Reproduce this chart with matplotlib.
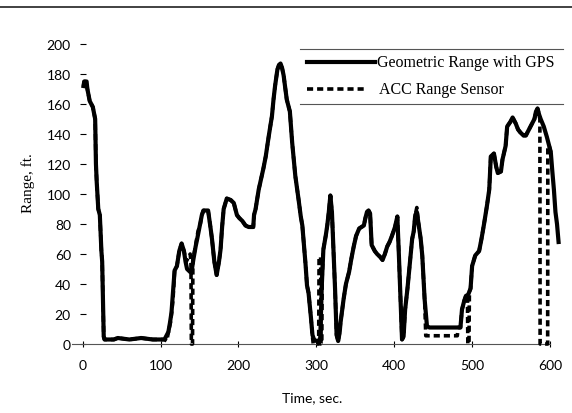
import matplotlib
matplotlib.use("Agg")
import matplotlib.pyplot as plt
from matplotlib.lines import Line2D

# ---------------- data ----------------
gps_t = [1, 2, 5, 6, 9, 13, 16, 17, 18, 20, 22, 24, 25, 27, 28, 40, 45, 60, 75, 90, 105,
         110, 112, 114, 116, 118, 121, 124, 127, 130, 132, 134, 138, 140, 142, 145, 147, 150,
         153, 155, 161, 164, 166, 169, 172, 175, 177, 179, 181, 185, 190, 194, 198, 201, 205,
         209, 213, 219, 220, 222, 226, 229, 232, 235, 239, 243, 245, 247, 250, 252, 254, 256,
         258, 262, 266, 269, 273, 277, 280, 282, 286, 288, 290, 293, 295, 297, 300, 303, 305,
         307, 309, 312, 314, 316, 318, 320, 322, 324, 326, 328, 330, 331, 335, 338, 342, 345,
         348, 351, 355, 358, 361, 363, 365, 367, 369, 371, 375, 378, 382, 385, 388, 391, 394,
         397, 401, 404, 406, 408, 410, 412, 414, 417, 419, 421, 423, 425, 427, 429, 431, 434,
         436, 439, 442, 445, 460, 485, 487, 490, 492, 495, 498, 500, 504, 509, 512, 515, 519,
         522, 524, 528, 531, 533, 537, 539, 543, 545, 549, 552, 556, 559, 562, 566, 569, 573,
         577, 580, 582, 584, 586, 588, 592, 596, 599, 601, 603, 605, 607, 609, 611]
gps_r = [172, 175, 175, 170, 162, 158, 150, 120, 108, 90, 86, 62, 55, 5, 3, 3, 4, 3, 4, 3, 3,
         8, 14, 21, 35, 49, 52, 62, 67, 62, 55, 50, 48, 49, 56, 65, 70, 78,
         86, 89, 89, 78, 70, 55, 46, 55, 63, 78, 90, 97, 96, 94, 86, 84, 82,
         79, 78, 78, 86, 90, 103, 110, 117, 125, 139, 152, 163, 172, 183, 186, 187, 184,
         179, 163, 155, 134, 112, 97, 85, 79, 54, 39, 34, 18, 6, 3, 2, 2, 4,
         39, 63, 72, 79, 88, 99, 88, 63, 37, 6, 2, 8, 14, 30, 40, 48, 57,
         65, 72, 77, 78, 79, 84, 88, 89, 87, 66, 62, 60, 58, 56, 60, 65, 68,
         72, 78, 85, 59, 30, 3, 5, 23, 37, 48, 59, 70, 75, 86, 88, 81, 70,
         59, 30, 12, 11, 11, 11, 23, 29, 32, 33, 37, 52, 59, 62, 70, 79, 92,
         103, 125, 127, 118, 114, 115, 123, 132, 145, 148, 151, 147, 143, 141, 139, 139, 143,
         147, 150, 155, 157, 153, 150, 145, 138, 132, 128, 115, 103, 88, 80, 68]

acc_t = [1, 2, 5, 6, 9, 13, 16, 17, 18, 20, 22, 24, 25, 27, 28, 40, 45, 60, 75, 90, 105,
         108, 110, 113, 116, 118, 121, 124, 127, 130, 133, 136, 138, 139, 139.5, 141, 141.5,
         143, 145, 148, 151, 153, 155, 161, 164, 166, 169, 172, 175, 177, 179, 181, 185, 190,
         194, 198, 201, 205, 209, 213, 219, 220, 222, 226, 229, 232, 235, 239, 243, 245, 247,
         250, 252, 254, 256, 258, 262, 266, 269, 273, 277, 280, 282, 286, 288, 290, 293, 295,
         296, 303, 303.5, 305.5, 306, 307, 307.5, 309, 312, 314, 316, 318, 320, 322, 324, 326,
         328, 330, 331, 335, 338, 342, 345, 348, 351, 355, 358, 361, 363, 365, 367, 369, 371,
         375, 378, 382, 385, 388, 391, 394, 397, 401, 404, 406, 408, 410, 412, 414, 417, 419,
         421, 423, 425, 427, 429, 431, 434, 436, 439, 440, 440.5, 481, 482, 485, 487, 490, 492,
         494, 494.5, 496, 496.5, 498, 500, 504, 509, 512, 515, 519, 522, 524, 528, 531, 533,
         537, 539, 543, 545, 549, 552, 556, 559, 562, 566, 569, 573, 577, 580, 582, 584, 586,
         587, 587.3, 597, 597.2, 599, 601]
acc_r = [172, 175, 175, 170, 162, 158, 150, 120, 108, 90, 86, 62, 55, 5, 3, 3, 4, 3, 4, 3, 3,
         2, 8, 15, 30, 49, 52, 62, 67, 62, 55, 58, 60, 55, 0, 0, 58,
         60, 66, 75, 80, 86, 89, 89, 78, 70, 55, 46, 55, 63, 78, 90, 97, 96,
         94, 86, 84, 82, 79, 78, 78, 86, 90, 103, 110, 117, 125, 139, 152, 163, 172,
         183, 186, 187, 184, 179, 163, 155, 134, 112, 97, 85, 79, 54, 39, 34, 18, 5,
         0, 0, 58, 58, 0, 0, 45, 63, 72, 79, 88, 99, 88, 63, 37, 6,
         2, 8, 14, 30, 40, 48, 57, 65, 72, 77, 78, 79, 84, 88, 89, 87, 66,
         62, 60, 58, 56, 60, 65, 68, 72, 78, 85, 59, 30, 3, 5, 23, 37, 48,
         59, 70, 75, 86, 91, 81, 70, 59, 30, 12, 5.5, 5.5, 11, 11, 23, 29, 32,
         33, 0, 0, 35, 37, 52, 59, 62, 70, 79, 92, 103, 125, 127, 118, 114,
         115, 123, 132, 145, 148, 151, 147, 143, 141, 139, 139, 143, 147, 150, 155, 157, 153,
         150, 0, 0, 132, 132, 128]

x_ticks = [0, 100, 200, 300, 400, 500, 600]
y_ticks = [0, 20, 40, 60, 80, 100, 120, 140, 160, 180, 200]
gps_label = "Geometric Range with GPS"
acc_label = "ACC Range Sensor"
x_title = "Time, sec."
y_title = "Range, ft."

# ---------------- figure ----------------
W, H = 572, 414
fig = plt.figure(figsize=(W / 100, H / 100), dpi=100)
fig.patch.set_facecolor("white")

def fx(px):
    return px / W

def fy(py):
    return 1 - py / H

ax = fig.add_axes([fx(82.7), fy(345), fx(550) - fx(82.7), fy(45) - fy(345)])
ax.set_xlim(0, 600)
ax.set_ylim(0, 200)

DASH = (0, (1.7, 1.1))
ax.plot(acc_t, acc_r, color="black", lw=2.6, ls=DASH, clip_on=False,
        dash_capstyle="butt", zorder=3)
ax.plot(gps_t, gps_r, color="black", lw=3.0, clip_on=False, zorder=2)

for s in ["top", "right", "left"]:
    ax.spines[s].set_visible(False)
ax.spines["bottom"].set_color("#555555")
ax.spines["bottom"].set_linewidth(0.8)

tick_font = dict(family="Lato", size=10)
ax.set_xticks(x_ticks)
ax.set_yticks(y_ticks)
ax.set_xticklabels([str(v) for v in x_ticks], **tick_font)
ax.set_yticklabels([str(v) for v in y_ticks], **tick_font)
ax.tick_params(axis="y", direction="inout", length=5, width=0.8, pad=6, colors="black")
ax.tick_params(axis="x", direction="inout", length=5, width=0.8, pad=8, colors="black")

# short extension of the baseline to the left of the origin
fig.add_artist(Line2D([fx(72), fx(83)], [fy(345), fy(345)], transform=fig.transFigure,
                      color="#555555", lw=0.8))

# axis titles
fig.text(fx(312), fy(398), x_title, ha="center", va="center", family="Lato", size=10)
fig.text(fx(28), fy(183), y_title, ha="center", va="center", rotation=90,
         family="Liberation Serif", size=11)

# page rule at top
fig.add_artist(Line2D([0, 1], [fy(8), fy(8)], transform=fig.transFigure,
                      color="#333333", lw=1.3))

# legend box: two rules with samples and labels
for yy in (50, 105):
    fig.add_artist(Line2D([fx(300), fx(563)], [fy(yy), fy(yy)], transform=fig.transFigure,
                          color="#555555", lw=0.8))
fig.add_artist(Line2D([fx(307), fx(375)], [fy(63), fy(63)], transform=fig.transFigure,
                      color="black", lw=3.0))
fig.add_artist(Line2D([fx(307), fx(367)], [fy(90), fy(90)], transform=fig.transFigure,
                      color="black", lw=2.6, ls=DASH, dash_capstyle="butt"))
fig.text(fx(377), fy(63), gps_label, ha="left", va="center", family="Liberation Serif", size=11.5)
fig.text(fx(379), fy(90), acc_label, ha="left", va="center", family="Liberation Serif", size=11.5)

fig.savefig("out.png", dpi=100, facecolor="white")
